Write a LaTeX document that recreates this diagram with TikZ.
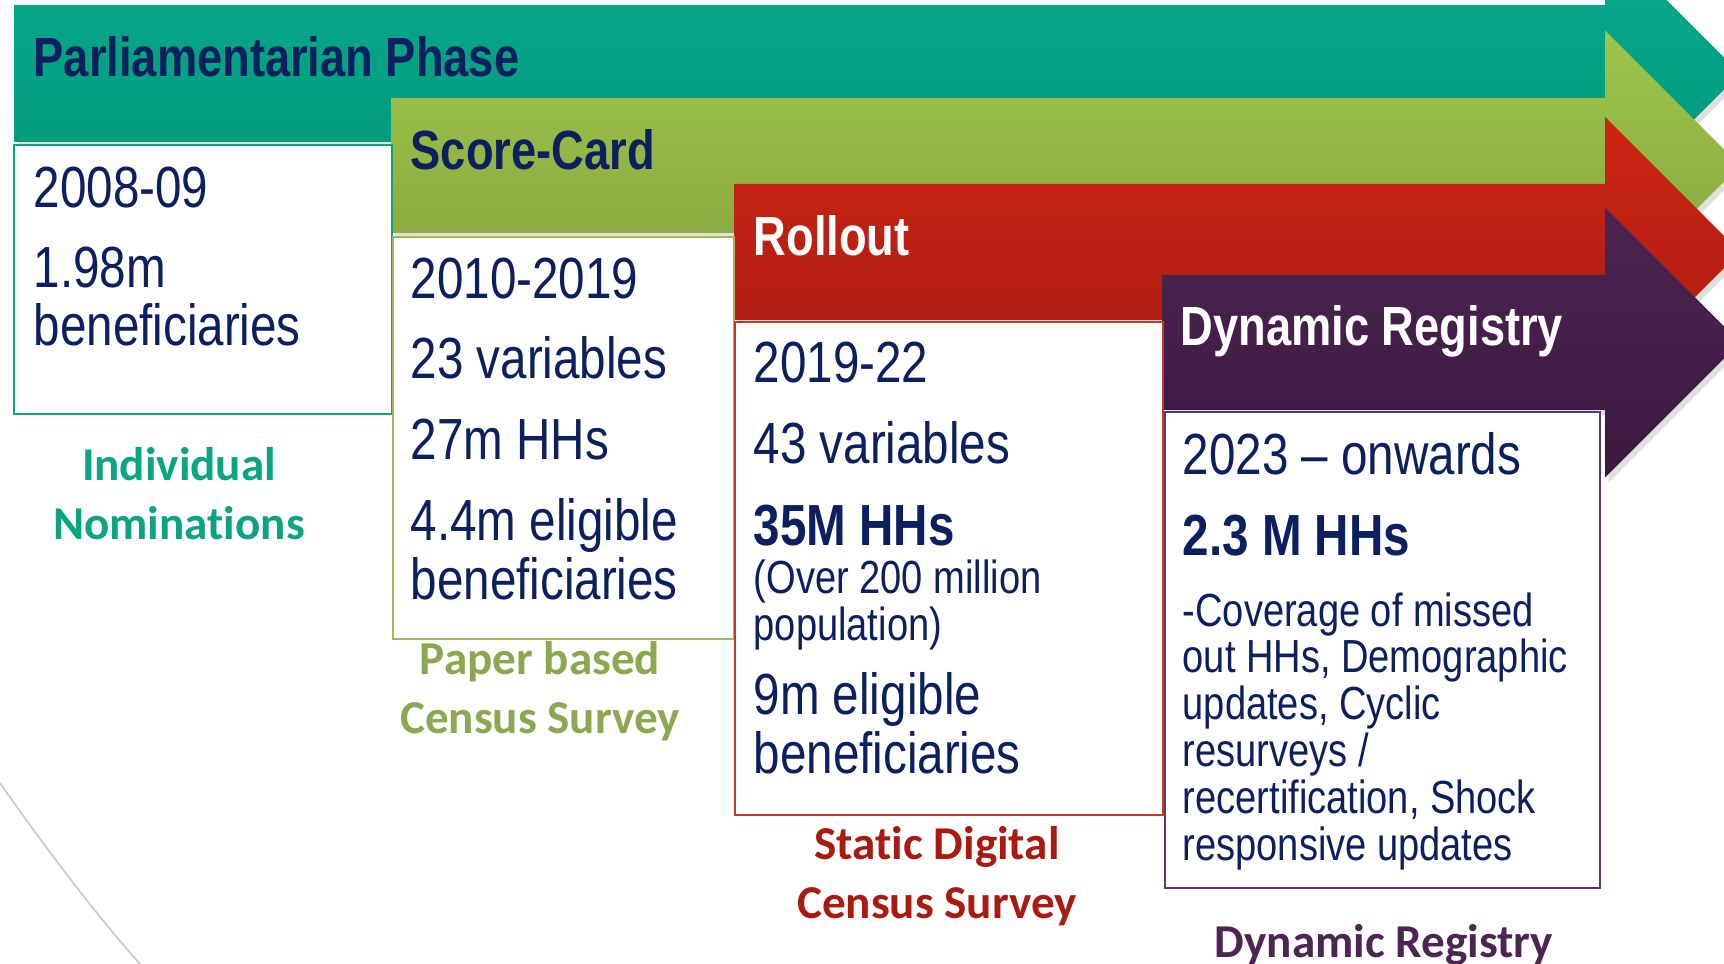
\documentclass[tikz,border=0pt]{standalone}
\usepackage{fontspec}
\setmainfont{Liberation Sans}
\newfontfamily\narrowfont{Liberation Sans}[FakeStretch=0.82, Ligatures=TeX]
\newfontfamily\labelfont{Carlito}[Ligatures=NoCommon]
\usetikzlibrary{shadows}

\definecolor{navytext}{HTML}{0C1F5F}
\definecolor{tealtop}{HTML}{05AD8C}
\definecolor{tealbot}{HTML}{03957A}
\definecolor{tealline}{HTML}{0AA483}
\definecolor{limetop}{HTML}{9EC54B}
\definecolor{limebot}{HTML}{86A43E}
\definecolor{limeline}{HTML}{9BBB59}
\definecolor{redtop}{HTML}{CC2514}
\definecolor{redbot}{HTML}{A91B11}
\definecolor{redline}{HTML}{C0392B}
\definecolor{plumtop}{HTML}{4C2553}
\definecolor{plumbot}{HTML}{3B193E}
\definecolor{plumline}{HTML}{5E3A66}

% block arrow: #1 style, #2 left end, #3 top of body, #4 bottom of body
\newcommand{\phasearrow}[4]{%
  \path[#1] (#2,#3) -- (1605,#3) -- (1605,{(#3+#4)/2-135})
    -- (1740,{(#3+#4)/2}) -- (1605,{(#3+#4)/2+135})
    -- (1605,#4) -- (#2,#4) -- cycle;}

\begin{document}
\begin{tikzpicture}[x=0.01cm, y=-0.01cm,
    arrowbase/.style={drop shadow={opacity=0.25, shadow xshift=1pt, shadow yshift=-1.5pt}},
    boxline/.style={draw=#1, line width=0.6pt, fill=white},
    boxtext/.style={font=\narrowfont\fontsize{16.5}{16.5}\selectfont, text=navytext,
      anchor=base west, inner sep=0pt, align=left},
    smalltext/.style={boxtext, font=\narrowfont\fontsize{13.2}{13.3}\selectfont},
    headtext/.style={font=\narrowfont\bfseries\fontsize{15.7}{15.7}\selectfont,
      anchor=base west, inner sep=0pt},
    labeltext/.style={font=\labelfont\bfseries\fontsize{13.4}{16.5}\selectfont,
      anchor=base, inner sep=0pt, align=center}]
    \useasboundingbox (0,0) rectangle (1724,964);
    \fill[white] (0,0) rectangle (1724,964);
    \clip (0,0) rectangle (1724,964);

    % faint arc in the lower left corner
    \draw[black!20, line width=0.5pt] (0,783) .. controls (40,840) and (95,915) .. (150,975);

    % the four phase arrows, back to front
    \phasearrow{arrowbase, top color=tealtop, bottom color=tealbot}{14}{5}{142}
    \phasearrow{arrowbase, top color=limetop, bottom color=limebot}{391}{98}{233}
    \phasearrow{arrowbase, top color=redtop, bottom color=redbot}{734}{184}{320}
    \phasearrow{arrowbase, top color=plumtop, bottom color=plumbot}{1162}{275}{410}

    % arrow titles
    \node[headtext, text=navytext] (parl) at (33,77) {Parliamentarian Phase};
    \node[headtext, text=navytext] (score) at (410,170) {Score-Card};
    \node[headtext, text=white] (roll) at (753,256) {Rollout};
    \node[headtext, text=white] (dyn) at (1180,346) {Dynamic Registry};

    % boxes under the arrows
    \draw[boxline=tealline] (14,145) rectangle (392,414);
    \draw[boxline=limeline] (393,237) rectangle (734,639);
    \draw[boxline=redline] (735,322) rectangle (1163,815);
    \draw[boxline=plumline] (1165,412) rectangle (1600,888);

    % first box (multi-line nodes sit on their last baseline)
    \node[boxtext] (yr1) at (33,208) {2008-09};
    \node[boxtext] (ben1) at (33,346) {1.98m\\beneficiaries};

    % second box
    \node[boxtext] (yr2) at (410,299) {2010-2019};
    \node[boxtext] (var2) at (410,379) {23 variables};
    \node[boxtext] (hh2) at (410,460) {27m HHs};
    \node[boxtext] (ben2) at (410,599) {4.4m eligible\\beneficiaries};

    % third box
    \node[boxtext] (yr3) at (753,383) {2019-22};
    \node[boxtext] (var3) at (753,464) {43 variables};
    \node[boxtext, font=\narrowfont\bfseries\fontsize{16.5}{16.5}\selectfont] (hh3) at (753,545) {35M HHs};
    \node[smalltext] (pop3) at (753,640) {(Over 200 million\\population)};
    \node[boxtext] (ben3) at (753,773) {9m eligible\\beneficiaries};

    % fourth box
    \node[boxtext] (yr4) at (1182,475) {2023 \textendash{} onwards};
    \node[boxtext, font=\narrowfont\bfseries\fontsize{16.5}{16.5}\selectfont] (hh4) at (1182,555) {2.3 M HHs};
    \node[smalltext] (cov4) at (1182,860) {-Coverage of missed\\out HHs, Demographic\\updates, Cyclic\\resurveys /\\recertification, Shock\\responsive updates};

    % labels under the boxes
    \node[labeltext, text=tealline] (lab1) at (179,539) {Individual\\Nominations};
    \node[labeltext, text=limeline!90!black] (lab2) at (540,733) {Paper based\\Census Survey};
    \node[labeltext, text=redbot] (lab3) at (937,918) {Static Digital\\Census Survey};
    \node[labeltext, text=plumtop] (lab4) at (1384,957) {Dynamic Registry};
\end{tikzpicture}
\end{document}
